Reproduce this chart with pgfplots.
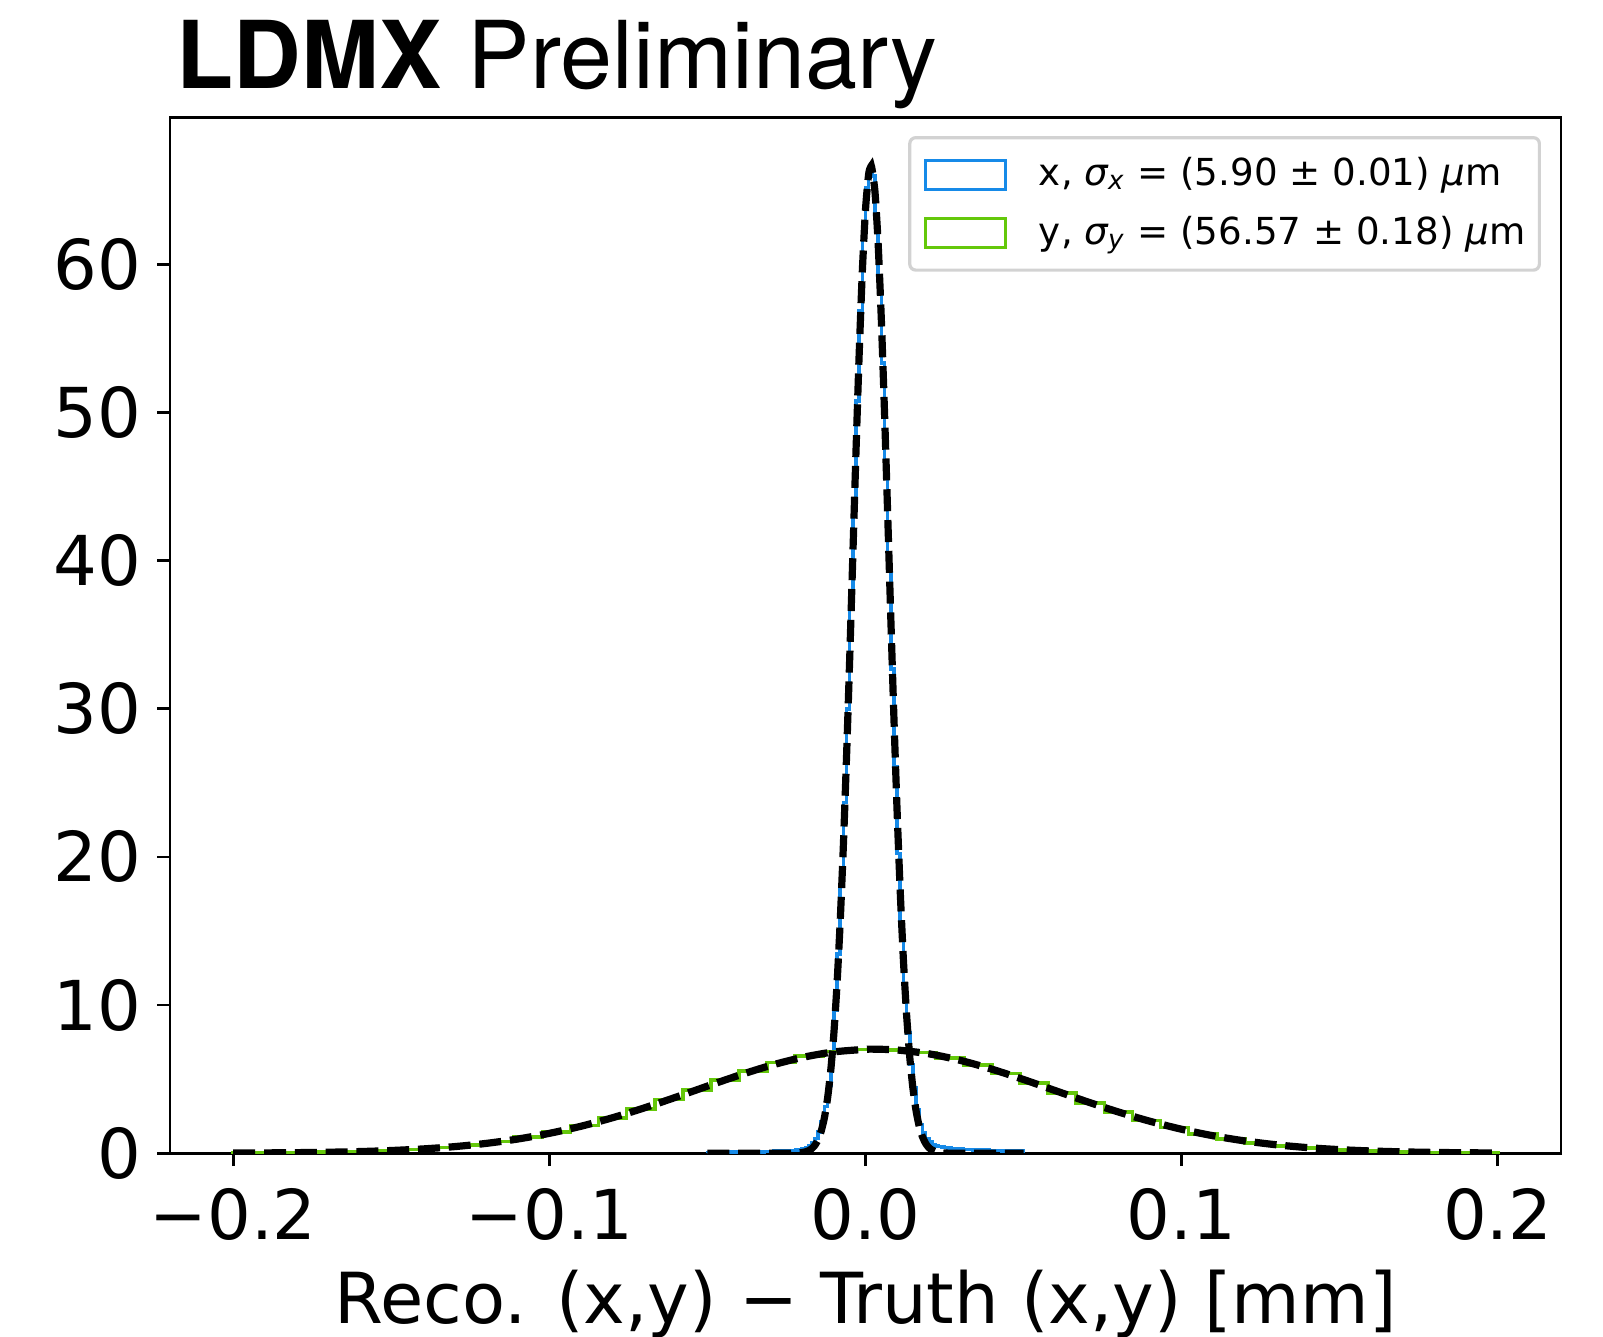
\documentclass[border=0pt]{standalone}
\usepackage{fontspec}
\setmainfont{DejaVu Sans}
\newfontfamily\helv{TeX Gyre Heros}
\usepackage{pgfplots}
\pgfplotsset{compat=1.18}
\definecolor{histblue}{RGB}{22,138,232}
\definecolor{histgreen}{RGB}{100,200,10}
\definecolor{legframe}{RGB}{210,210,210}
\begin{document}
\begin{tikzpicture}
\begin{axis}[
  at={(0,0)}, anchor=south west,
  scale only axis, width=347.75pt, height=258.9pt,
  xmin=-0.22, xmax=0.22, ymin=0, ymax=69.9,
  axis line style={line width=0.7pt},
  every tick/.style={black, line width=0.7pt},
  tick align=outside, tick pos=left,
  major tick length=3.25pt,
  xtick={-0.2,-0.1,0,0.1,0.2},
  xticklabels={−0.2,−0.1,0.0,0.1,0.2},
  ytick={0,10,20,30,40,50,60},
  yticklabels={0,10,20,30,40,50,60},
  tick label style={font=\fontsize{17.2}{20}\selectfont, inner sep=0pt},
  xticklabel style={anchor=north, yshift=-5.4pt},
  yticklabel style={anchor=east, xshift=-3.7pt},
  title={{\bfseries LDMX} Preliminary},
  title style={at={(axis description cs:0,1)}, anchor=base west, inner sep=0pt, xshift=1.5pt, yshift=1.3pt, font=\helv\fontsize{23.4}{27}\selectfont},
  xlabel={Reco. (x,y) − Truth (x,y) [mm]},
  xlabel style={at={(axis description cs:0.5,0)}, anchor=base, inner sep=0pt, yshift=-42.6pt, font=\fontsize{17.6}{20}\selectfont},
  legend cell align=left,
  legend image code/.code={\draw[#1, sharp corners, line width=0.8pt] (0pt,-3.65pt) rectangle (20pt,3.65pt);},
  legend style={at={(0.9856,0.9822)}, anchor=north east, draw=legframe, line width=0.8pt, rounded corners=1.5pt, fill=white,
    font=\fontsize{9.3}{11}\selectfont, inner xsep=3.5pt, inner ysep=5pt, row sep=6pt,
    nodes={inner sep=0pt},
    /tikz/every odd column/.append style={column sep=8pt}},
]
% x histogram (bin width 0.001 mm)
\addplot[const plot, histblue, line width=0.9pt] coordinates {
(-0.050,0)
(-0.050,0.06) (-0.049,0.05) (-0.048,0.07) (-0.047,0.06) (-0.046,0.07) (-0.045,0.06) (-0.044,0.08) (-0.043,0.07) (-0.042,0.08) (-0.041,0.08)
(-0.040,0.09) (-0.039,0.08) (-0.038,0.09) (-0.037,0.10) (-0.036,0.09) (-0.035,0.10) (-0.034,0.11) (-0.033,0.10) (-0.032,0.12) (-0.031,0.11)
(-0.030,0.12) (-0.029,0.13) (-0.028,0.13) (-0.027,0.14) (-0.026,0.15) (-0.025,0.15) (-0.024,0.17) (-0.023,0.18) (-0.022,0.20) (-0.021,0.24)
(-0.020,0.30) (-0.019,0.38) (-0.018,0.50) (-0.017,0.68) (-0.016,0.98) (-0.015,1.45) (-0.014,2.15) (-0.013,3.15) (-0.012,4.60) (-0.011,6.74)
(-0.010,9.67) (-0.009,13.43) (-0.008,18.10) (-0.007,23.66) (-0.006,29.99) (-0.005,36.86) (-0.004,43.93) (-0.003,50.76) (-0.002,56.89) (-0.001,61.82)
(0.000,65.14) (0.001,66.10) (0.002,65.95) (0.003,63.36) (0.004,59.03) (0.005,53.33) (0.006,46.71) (0.007,39.69) (0.008,32.69) (0.009,26.11)
(0.010,20.23) (0.011,15.30) (0.012,11.30) (0.013,8.10) (0.014,6.00) (0.015,4.40) (0.016,2.95) (0.017,1.95) (0.018,1.35) (0.019,0.98)
(0.020,0.75) (0.021,0.60) (0.022,0.50) (0.023,0.45) (0.024,0.41) (0.025,0.38) (0.026,0.35) (0.027,0.33) (0.028,0.31) (0.029,0.29)
(0.030,0.27) (0.031,0.26) (0.032,0.25) (0.033,0.24) (0.034,0.23) (0.035,0.22) (0.036,0.21) (0.037,0.20) (0.038,0.20) (0.039,0.19)
(0.040,0.18) (0.041,0.18) (0.042,0.17) (0.043,0.16) (0.044,0.16) (0.045,0.15) (0.046,0.15) (0.047,0.14) (0.048,0.14) (0.049,0.13)
(0.050,0)
};
\addlegendentry{x, {\itshape σ}\textsubscript{\itshape x} = (5.90 ± 0.01) {\itshape μ}m}
% y histogram (45 bins from -0.2 to 0.2)
\addplot[const plot, histgreen, line width=0.9pt] coordinates {
(-0.2,0)
(-0.2,0.015) (-0.19111,0.026) (-0.18222,0.043) (-0.17333,0.070) (-0.16444,0.111) (-0.15556,0.172) (-0.14667,0.261) (-0.13778,0.386) (-0.12889,0.556) (-0.12,0.783)
(-0.11111,1.074) (-0.10222,1.438) (-0.09333,1.879) (-0.08444,2.395) (-0.07556,2.979) (-0.06667,3.614) (-0.05778,4.278) (-0.04889,4.941) (-0.04,5.566) (-0.03111,6.119)
(-0.02222,6.562) (-0.01333,6.867) (-0.00444,7.010) (0.00444,6.982) (0.01333,6.785) (0.02222,6.432) (0.03111,5.949) (0.04,5.370) (0.04889,4.727) (0.05778,4.061)
(0.06667,3.403) (0.07556,2.783) (0.08444,2.220) (0.09333,1.728) (0.10222,1.312) (0.11111,0.972) (0.12,0.703) (0.12889,0.495) (0.13778,0.341) (0.14667,0.229)
(0.15556,0.150) (0.16444,0.096) (0.17333,0.060) (0.18222,0.036) (0.19111,0.022)
(0.2,0)
};
\addlegendentry{y, {\itshape σ}\textsubscript{\itshape y} = (56.57 ± 0.18) {\itshape μ}m}
% Gaussian fit to x
\addplot[forget plot, black, line width=1.8pt, dash pattern=on 5.5pt off 2.2pt, smooth, tension=0.4] coordinates {
(-0.050,0) (-0.030,0) (-0.025,0.001) (-0.024,0.003) (-0.023,0.006) (-0.022,0.012) (-0.021,0.024)
(-0.020,0.047) (-0.019,0.091) (-0.018,0.17) (-0.017,0.31) (-0.016,0.54) (-0.015,0.91) (-0.014,1.50) (-0.013,2.39) (-0.012,3.71) (-0.011,5.57)
(-0.010,8.10) (-0.009,11.44) (-0.008,15.65) (-0.007,20.78) (-0.006,26.75) (-0.005,33.38) (-0.004,40.39) (-0.003,47.41) (-0.002,53.95) (-0.001,59.53)
(0.000,63.70) (0.001,66.10) (0.0017,66.60) (0.002,66.51) (0.003,64.89) (0.004,61.39) (0.005,56.32) (0.006,50.10) (0.007,43.23) (0.008,36.16) (0.009,29.33)
(0.010,23.07) (0.011,17.60) (0.012,13.01) (0.013,9.34) (0.014,6.50) (0.015,4.38) (0.016,2.86) (0.017,1.81) (0.018,1.12) (0.019,0.67)
(0.020,0.38) (0.021,0.22) (0.022,0.12) (0.023,0.06) (0.024,0.031) (0.025,0.016) (0.026,0.007) (0.028,0.001) (0.030,0) (0.050,0)
};
% Gaussian fit to y
\addplot[forget plot, black, line width=1.8pt, dash pattern=on 5.5pt off 2.2pt, smooth, tension=0.5] coordinates {
(-0.20,0.011) (-0.19,0.021) (-0.18,0.038) (-0.17,0.066) (-0.16,0.111) (-0.15,0.182) (-0.14,0.289) (-0.13,0.444) (-0.12,0.662) (-0.11,0.957)
(-0.10,1.340) (-0.09,1.820) (-0.08,2.395) (-0.07,3.056) (-0.06,3.778) (-0.05,4.529) (-0.04,5.260) (-0.03,5.923) (-0.02,6.463) (-0.01,6.837)
(0.00,7.010) (0.003,7.020) (0.01,6.966) (0.02,6.710) (0.03,6.265) (0.04,5.669) (0.05,4.973) (0.06,4.227) (0.07,3.484) (0.08,2.783)
(0.09,2.155) (0.10,1.616) (0.11,1.176) (0.12,0.829) (0.13,0.567) (0.14,0.375) (0.15,0.241) (0.16,0.150) (0.17,0.090) (0.18,0.053)
(0.19,0.030) (0.20,0.016)
};
\end{axis}
\pgfresetboundingbox
\path[use as bounding box] (-42.5pt,-45.9pt) rectangle (358.25pt,288.3pt);
\end{tikzpicture}
\end{document}
